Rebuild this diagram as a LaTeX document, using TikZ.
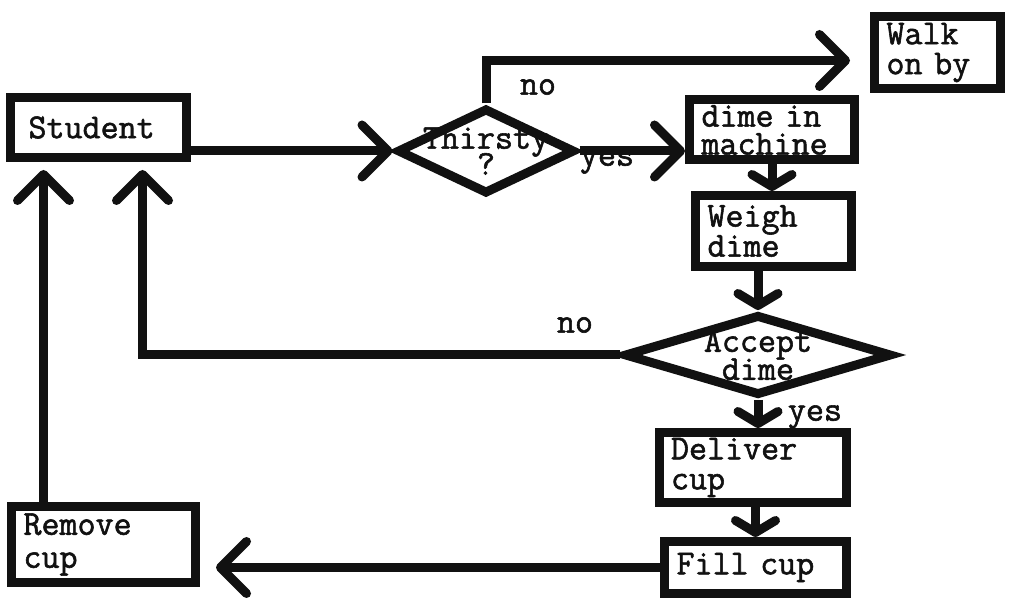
\documentclass[tikz,border=0pt]{standalone}
\usepackage{fontspec}
\newfontfamily\maquina{Latin Modern Mono}[FakeBold=1.6]
\newcommand{\letraMaquina}[1]{\maquina\fontsize{17.5}{#1}\selectfont\lineskiplimit=-20pt\relax}
\definecolor{tintaNegra}{HTML}{111111}
\usetikzlibrary{
	arrows.meta,
	positioning,
	shapes.geometric
}
\tikzset{
	caja/.style={
		draw=tintaNegra,
		line width=4.5pt,
		fill=white,
		align=left,
		inner xsep=6pt,
		inner ysep=2pt,
		text=tintaNegra,
		font=\letraMaquina{15}
	},
	rombo/.style={
		diamond,
		draw=tintaNegra,
		line width=4.5pt,
		fill=white,
		align=center,
		inner sep=0pt,
		text=tintaNegra,
		font=\letraMaquina{14}
	},
	etiqueta/.style={
		inner sep=1pt,
		text=tintaNegra,
		font=\letraMaquina{14}
	},
	flecha/.style={
		-{Straight Barb[length=13pt,width=26pt,round]},
		line width=4.5pt,
		tintaNegra
	},
	flechaCorta/.style={
		-{Straight Barb[length=6pt,width=20pt,round]},
		line width=4.5pt,
		tintaNegra
	}
}
\begin{document}
\begin{tikzpicture}[x=0.5pt,y=-0.5pt]
	\useasboundingbox[fill=white] (0,0) rectangle (1009,599);
	\node[caja, text width=70pt, minimum height=30pt, inner xsep=9pt] (student) at (98.5,127.5) {Student};
	\node[rombo, shape aspect=2, inner xsep=-9pt, inner ysep=-4pt, minimum width=89pt, minimum height=43pt, font=\letraMaquina{13}] (thirsty) at (486,151) {Thirsty\\?};
	\node[caja, text width=51pt, minimum height=36pt] (walkBy) at (937.5,52.5) {Walk\\on by};
	\node[caja, text width=70.5pt, minimum height=30pt, font=\letraMaquina{14}] (dimeIn) at (772,130) {dime in\\machine};
	\node[caja, text width=66pt, minimum height=35.5pt] (weighDime) at (773.5,231) {Weigh\\dime};
	\node[rombo, shape aspect=2.8, inner ysep=-4pt, minimum width=134pt, minimum height=40.5pt] (acceptDime) at (758,355) {Accept\\dime};
	\node[caja, text width=81.5pt, minimum height=35pt] (deliverCup) at (752.5,467.5) {Deliver\\cup};
	\node[caja, text width=79pt, minimum height=26pt] (fillCup) at (755.5,567.5) {Fill cup};
	\node[caja, text width=80pt, minimum height=38pt, font=\letraMaquina{16.5}] (removeCup) at (103.5,544.5) {Remove\\cup};
	\node[etiqueta] (noArriba) at (538,87) {no};
	\node[etiqueta] (yesDerecha) at (607,162) {yes};
	\node[etiqueta] (noAbajo) at (575,325) {no};
	\node[etiqueta] (yesAbajo) at (815,417) {yes};
	\draw[flecha] (student.east |- thirsty.west) -- (thirsty.west);
	\draw[flecha, shorten >=10pt] (thirsty.north) |- ([yshift=-4pt]walkBy.west);
	\draw[flecha] (thirsty.east) -- (thirsty.east -| dimeIn.west);
	\draw[flechaCorta] (dimeIn.south) -- (dimeIn.south |- weighDime.north);
	\draw[flechaCorta] (weighDime.south -| acceptDime.north) -- (acceptDime.north);
	\draw[flecha, shorten >=4pt] (acceptDime.west) -| ([xshift=22pt]student.south);
	\draw[flechaCorta] (acceptDime.south) -- (acceptDime.south |- deliverCup.north);
	\draw[flechaCorta] (deliverCup.south -| fillCup.north) -- (fillCup.north);
	\draw[flecha, shorten >=8pt] (fillCup.west) -- (fillCup.west -| removeCup.east);
	\draw[flecha, shorten >=4pt] ([xshift=-30pt]removeCup.north) -- ([xshift=-30pt]removeCup.north |- student.south);
\end{tikzpicture}
\end{document}
